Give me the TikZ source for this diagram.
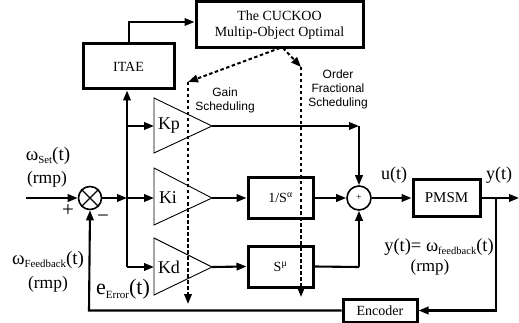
\documentclass[tikz,border=0pt]{standalone}
\usepackage{graphicx}
\usepackage{fontspec}
\setmainfont{Liberation Serif}
\newfontfamily\sansf{Liberation Sans}
\usetikzlibrary{arrows.meta}
\newcommand{\lsub}[2][0.57]{\raisebox{-0.18em}{\scalebox{#1}{#2}}}
\newcommand{\fs}[1]{\fontsize{#1}{#1}\selectfont}
\begin{document}
\begin{tikzpicture}[x=1pt,y=-1pt,
  tip/.style={-{Triangle[length=10pt,width=7.5pt]}},
  conn/.style={line width=2.1pt,tip},
  wire/.style={line width=2.1pt},
  dconn/.style={line width=2pt,dash pattern=on 3.5pt off 2.5pt,-{Triangle[length=10pt,width=7.5pt]}},
  blk/.style={draw,line width=3pt,inner sep=0pt,font=\fs{14}},
  tri/.style={draw,line width=0.9pt},
  lbl/.style={inner sep=0pt,font=\fs{17.5}}]
\useasboundingbox (0,0) rectangle (519,323);

% blocks
\node[blk,minimum width=91pt,minimum height=45pt] (itae) at (128.5,66.5) {ITAE};
\node[blk,minimum width=167pt,minimum height=46pt,align=center,font=\fontsize{14}{16}\selectfont] (cuc) at (279.5,25) {The CUCKOO\\Multip-Object Optimal};
\node[blk,minimum width=65pt,minimum height=41pt] (fi) at (280.5,198) {1/S\textsuperscript{α}};
\node[blk,minimum width=65pt,minimum height=41pt] (fd) at (280.5,266.5) {S\textsuperscript{μ}};
\node[blk,minimum width=67pt,minimum height=37pt,font=\fs{15}] (pmsm) at (446.5,198) {PMSM};
\node[blk,minimum width=74pt,minimum height=23pt] (enc) at (380,310.5) {Encoder};

% gains
\draw[tri] (154,98) -- (154,153) -- (212,126) -- cycle;
\draw[tri] (154,168) -- (154,225) -- (212,198) -- cycle;
\draw[tri] (154,238) -- (154,295) -- (212,267) -- cycle;
\node[lbl,font=\fs{18}] (kp) at (169,126) {Kp};
\node[lbl,font=\fs{18}] (ki) at (168,198) {Ki};
\node[lbl,font=\fs{18}] (kd) at (169,267) {Kd};
\coordinate (kpin) at (154,126); \coordinate (kpout) at (212,126);
\coordinate (kiin) at (154,198); \coordinate (kiout) at (212,198);
\coordinate (kdin) at (154,267); \coordinate (kdout) at (212,267);

% summing junctions
\node[circle,draw,line width=1.6pt,minimum size=23pt,inner sep=0pt] (sx) at (90,198) {};
\draw[line width=1.1pt] (sx.north west) -- (sx.south east) (sx.north east) -- (sx.south west);
\node[circle,draw,line width=1.6pt,minimum size=24pt,inner sep=0pt,font=\fs{10}] (sp) at (359,198) {+};

% coordinates
\coordinate (in) at (26,198);
\coordinate (br) at (127,198);
\coordinate (brp) at (127,126);
\coordinate (brd) at (127,267);
\coordinate (up1) at (129,44);
\coordinate (up2) at (129,22);
\coordinate (kpc) at (359,126);
\coordinate (fdc) at (359,267);
\coordinate (ybr) at (496,198);
\coordinate (yout) at (519,198);
\coordinate (ybot) at (496,310.5);
\coordinate (fbc) at (89,310.5);
\coordinate (d1s) at (280,48);
\coordinate (d1c) at (188,82);
\coordinate (d1e) at (188,304);
\coordinate (d2s) at (283,48);
\coordinate (d2c) at (301,67);
\coordinate (d2e) at (301,297);

% connectors
\draw[conn] (in) -- (sx.west);
\draw[conn] (sx.east) -- (br);
\draw[conn] (br) -- (kiin);
\draw[wire] (brd) -- (br);
\draw[conn] (br) -- (itae.south -| br);
\draw[conn] (brp) -- (kpin);
\draw[conn] (brd) -- (kdin);
\draw[conn] (itae.north -| up1) -- (up2) -- (cuc.west |- up2);
\draw[conn] (kpout) -- (kpc);
\draw[conn] (kpc) -- (sp.north);
\draw[conn] (kiout) -- (fi.west);
\draw[conn] (kdout) -- (fd.west);
\draw[conn] (fi.east) -- (sp.west);
\draw[wire] (fd.east) -- (fdc);
\draw[conn] (fdc) -- (sp.south);
\draw[conn] (sp.east) -- (pmsm.west);
\draw[conn] (pmsm.east) -- (yout);
\draw[conn] (ybr) -- (ybot) -- (enc.east);
\draw[conn] (enc.west) -- (fbc) -- (sx.south);

% dashed scheduling
\draw[dconn] (d1s) -- (d1c);
\draw[dconn] (d1c) -- (d1e);
\draw[dconn] (d2s) -- (d2c);
\draw[dconn] (d2c) -- (d2e);

% labels
\node[lbl,font=\fs{19}] (wset) at (48,156) {ω\lsub{Set}(t)};
\node[lbl] (rmp1) at (47,179) {(rmp)};
\node[lbl,font=\fs{21}] (plus) at (68,211) {+};
\node[lbl,font=\fs{21}] (minus) at (103,219) {−};
\node[lbl,font=\fs{19}] (wfb) at (48,260) {ω\lsub{Feedback}(t)};
\node[lbl] (rmp2) at (48,284) {(rmp)};
\node[lbl,font=\fs{22}] (err) at (123,289) {e\lsub[0.5]{Error}(t)};
\node[lbl,font=\sansf\fontsize{12}{14}\selectfont,align=center] (gs) at (225,100) {Gain\\Scheduling};
\node[lbl,font=\sansf\fontsize{12}{14}\selectfont,align=center] (ofs) at (338,89) {Order\\Fractional\\Scheduling};
\node[lbl,font=\fs{18}] (ut) at (394,175) {u(t)};
\node[lbl,font=\fs{18}] (yt) at (499,175) {y(t)};
\node[lbl,font=\fs{18.5}] (yeq) at (439,247) {y(t)= ω\lsub[0.57]{feedback}(t)};
\node[lbl,font=\fs{17}] (rmp3) at (430,267) {(rmp)};
\end{tikzpicture}
\end{document}
